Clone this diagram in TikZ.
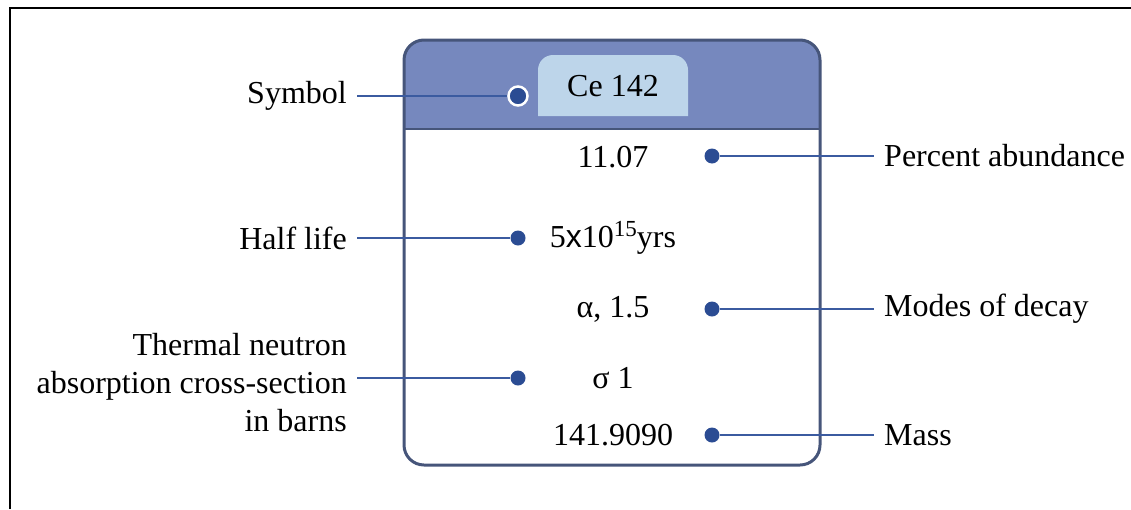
\documentclass[tikz,border=0pt]{standalone}
\usepackage{fontspec}
\setmainfont{Liberation Serif}
\newfontfamily\sansx{Liberation Sans}
\usetikzlibrary{positioning}
\definecolor{cardedge}{HTML}{46557A}
\definecolor{cardhead}{HTML}{7688BE}
\definecolor{cardtab}{HTML}{BDD5EA}
\definecolor{pin}{HTML}{2B4C93}
\definecolor{pinline}{HTML}{3B5BA0}

\begin{document}
\begin{tikzpicture}[x=1pt,y=-1pt,
  txt/.style={font=\fontsize{32}{38}\selectfont, inner sep=0pt},
  lab/.style={txt, inner xsep=10pt},
  dot/.style={circle, fill=pin, inner sep=0pt, minimum size=15pt},
  lead/.style={pinline, line width=2pt}]
\useasboundingbox (0,0) rectangle (1131,509);
% Frame
\draw[line width=2pt] (10,509) -- (10,8) -- (1131,8);
% Card
\fill[cardhead, rounded corners=20pt] (404,129) -- (404,40) -- (820,40) -- (820,129);
\draw[cardedge, line width=2pt] (404,129) -- (820,129);
\draw[cardedge, line width=3pt, rounded corners=20pt] (404,40) rectangle (820,465);
% Symbol tab
\fill[cardtab, rounded corners=15pt] (538,116) -- (538,55) -- (688,55) -- (688,116);
\node[txt] (sym) at (613,86) {Ce 142};
% Values
\node[txt] (abund) at (613,157) {11.07};
\node[txt] (half) at (613,238)
  {5{\sansx x}10\raisebox{11pt}{\fontsize{23}{23}\selectfont 15}yrs};
\node[txt] (decay) at (613,309) {α, 1.5};
\node[txt] (sigma) at (613,378) {σ 1};
\node[txt] (mass) at (613,435) {141.9090};
% Pins
\node[dot, draw=white, line width=2.5pt, minimum size=19pt] (sympin) at (518,96) {};
\node[dot] (abundpin) at (712,156) {};
\node[dot] (halfpin) at (518,238) {};
\node[dot] (decaypin) at (712,309) {};
\node[dot] (sigmapin) at (518,378) {};
\node[dot] (masspin) at (712,435) {};
% Left labels
\node[lab, anchor=east] (symlab) at (357,96) {Symbol};
\node[lab, anchor=east] (halflab) at (357,238) {Half life};
\node[lab, anchor=east, align=right] (sigmalab) at (357,383)
  {Thermal neutron\\absorption cross-section\\in barns};
% Right labels
\node[lab, anchor=west] (abundlab) at (874,156) {Percent abundance};
\node[lab, anchor=west] (decaylab) at (874,309) {Modes of decay};
\node[lab, anchor=west] (masslab) at (874,435) {Mass};
% Leads
\draw[lead] (symlab.east |- sympin) -- (sympin);
\draw[lead] (halflab.east |- halfpin) -- (halfpin);
\draw[lead] (sigmalab.east |- sigmapin) -- (sigmapin);
\draw[lead] (abundpin) -- (abundlab.west |- abundpin);
\draw[lead] (decaypin) -- (decaylab.west |- decaypin);
\draw[lead] (masspin) -- (masslab.west |- masspin);
\end{tikzpicture}
\end{document}
